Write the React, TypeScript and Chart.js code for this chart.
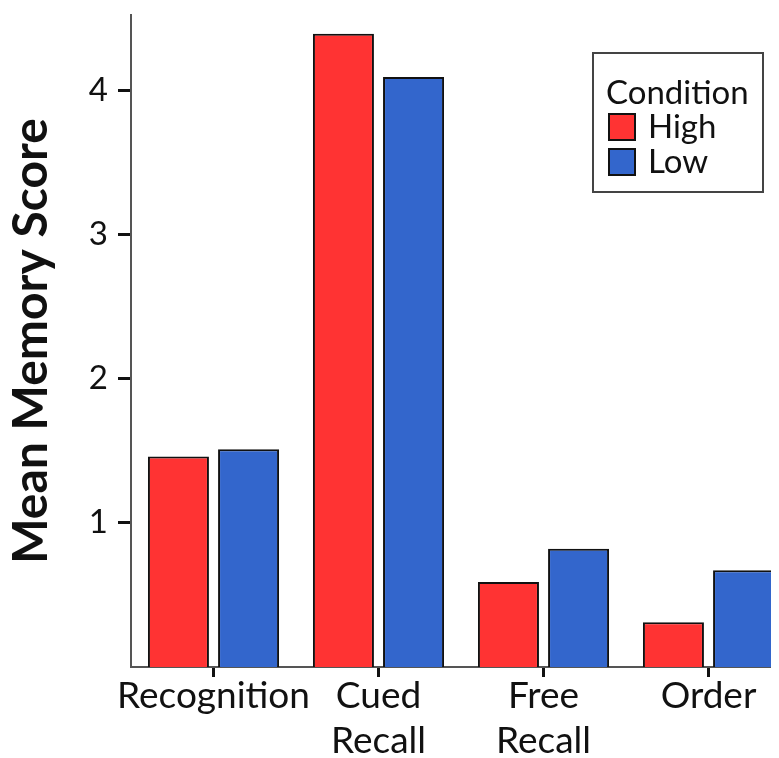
import React, { useEffect, useRef } from "react";
import { Chart, registerables } from "chart.js";

Chart.register(...registerables);

const categories: string[][] = [["Recognition"], ["Cued", "Recall"], ["Free", "Recall"], ["Order"]];
const seriesNames = ["High", "Low"];
const highValues = [1.46, 4.39, 0.59, 0.31];
const lowValues = [1.51, 4.09, 0.82, 0.67];
const yTicks = [1, 2, 3, 4];
const legendTitle = "Condition";
const yTitle = "Mean Memory Score";

const FONT = "Lato, 'Open Sans', sans-serif";
const RED = "#ff3333";
const BLUE = "#3366cc";

const legendPlugin = {
  id: "boxLegend",
  afterDraw(chart: any) {
    const ctx = chart.ctx;
    ctx.save();
    const bx = 585, by = 45, bw = 170, bh = 139;
    ctx.fillStyle = "#fff";
    ctx.fillRect(bx, by, bw, bh);
    ctx.strokeStyle = "#444";
    ctx.lineWidth = 2;
    ctx.strokeRect(bx, by, bw, bh);
    ctx.fillStyle = "#111";
    ctx.font = `33px ${FONT}`;
    ctx.textBaseline = "middle";
    ctx.textAlign = "left";
    ctx.fillText(legendTitle, bx + 13, by + 40);
    chart.data.datasets.forEach((ds: any, i: number) => {
      const cy = by + 74 + i * 35;
      ctx.fillStyle = ds.backgroundColor;
      ctx.fillRect(bx + 16, cy - 13, 26, 26);
      ctx.strokeStyle = "#111";
      ctx.lineWidth = 2;
      ctx.strokeRect(bx + 16, cy - 13, 26, 26);
      ctx.fillStyle = "#111";
      ctx.fillText(ds.label, bx + 55, cy);
    });
    ctx.restore();
  },
};

export default function App() {
  const ref = useRef<HTMLCanvasElement>(null);
  useEffect(() => {
    document.documentElement.style.overflow = "hidden";
    document.body.style.overflow = "hidden";
    const chart = new Chart(ref.current!, {
      type: "bar",
      data: {
        labels: categories,
        datasets: [
          { label: seriesNames[0], data: highValues, backgroundColor: RED, borderColor: "#111", borderWidth: 2 },
          { label: seriesNames[1], data: lowValues, backgroundColor: BLUE, borderColor: "#111", borderWidth: 2 },
        ],
      },
      options: {
        responsive: false,
        animation: false,
        devicePixelRatio: 1,
        layout: { padding: { top: 7, right: 7, left: 0, bottom: 0 } },
        plugins: { legend: { display: false }, tooltip: { enabled: false } },
        datasets: { bar: { categoryPercentage: 0.85, barPercentage: 0.87 } },
        scales: {
          x: {
            type: "category",
            offset: true,
            afterFit: (s: any) => {
              s.height = 91;
              s.paddingLeft = 0;
              s.paddingRight = 0;
            },
            grid: { offset: false, drawOnChartArea: false, drawTicks: true, tickLength: 10, tickWidth: 3, tickColor: "#111" },
            border: { display: true, color: "#555", width: 2 },
            ticks: {
              autoSkip: false,
              maxRotation: 0,
              padding: -3,
              color: "#111",
              font: { family: FONT, size: 37, lineHeight: 1.2 },
            },
          },
          y: {
            min: 0,
            max: 4.52,
            afterBuildTicks: (s: any) => {
              s.ticks = yTicks.map((v) => ({ value: v }));
            },
            afterFit: (s: any) => {
              s.width = 123;
              s.paddingTop = 0;
              s.paddingBottom = 0;
            },
            grid: { drawOnChartArea: false, drawTicks: true, tickLength: 13, tickWidth: 3, tickColor: "#111" },
            border: { display: true, color: "#555", width: 2 },
            ticks: { color: "#111", padding: 10, font: { family: FONT, size: 33 } },
            title: {
              display: true,
              text: yTitle,
              color: "#111",
              padding: 0,
              font: { family: FONT, size: 48, weight: "bold", lineHeight: 1.0 },
            },
          },
        },
      },
      plugins: [legendPlugin],
    } as any);
    return () => chart.destroy();
  }, []);
  return (
    <div style={{ width: 771, height: 750, overflow: "hidden" }}>
      <canvas ref={ref} width={790} height={750} style={{ width: 790, height: 750, display: "block" }} />
    </div>
  );
}
